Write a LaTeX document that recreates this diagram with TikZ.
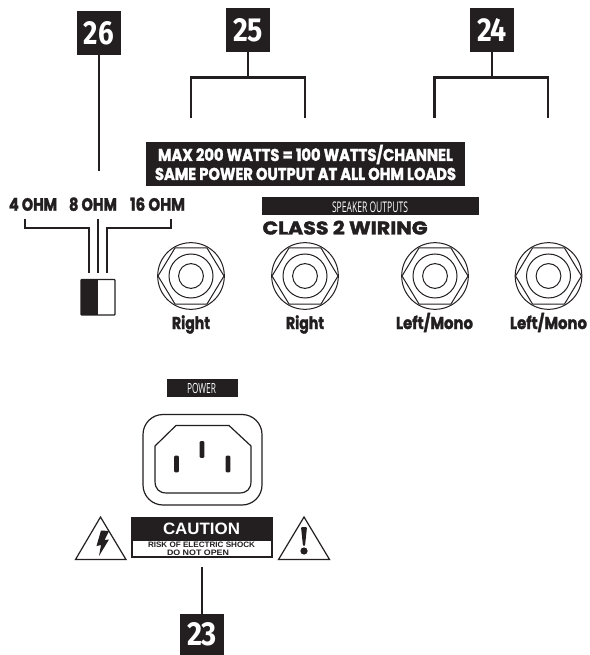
\documentclass[tikz,border=0pt]{standalone}
\usepackage{fontspec}
\usepackage{graphicx}
\setmainfont{Liberation Sans}
\newfontfamily\heavyf[BoldFont=Poppins Bold,BoldFeatures={FakeBold=1.9}]{Poppins}
\newfontfamily\numf{Fira Sans}
\newfontfamily\condf{Open Sans}
\definecolor{ink}{HTML}{231F20}
% #1 width, #2 cap height, both in reference pixels; text is framed to its cap height
\newcommand{\pxb}[3]{\resizebox{#1\dimexpr0.75pt\relax}{#2\dimexpr0.75pt\relax}{#3}}
\newcommand{\capfr}[1]{\setbox0\hbox{H}\raisebox{0pt}[\ht0][0pt]{#1}}
\newcommand{\hv}[1]{{\heavyf\bfseries\capfr{#1}}}
\newcommand{\numtext}[1]{\pxb{30}{23}{\numf\bfseries #1}}
\tikzset{
  x=0.75pt,y=-0.75pt,
  lead/.style={draw=ink,line width=1.6pt,line cap=butt},
  numbox/.style={fill=ink,text=white,minimum width=33pt,minimum height=33pt,inner sep=0pt},
  heavylabel/.style={text=ink,inner sep=0pt,anchor=center},
  thin jack/.style={draw=ink,line width=0.75pt},
  barlabel/.style={fill=ink,text=white,inner sep=0pt,anchor=center},
}
\newcommand{\jack}[2]{%
  \coordinate (#1) at (#2);
  \draw[thin jack] (#1) circle[radius=25pt];
  \draw[thin jack] (#1) circle[radius=16.5pt];
  \draw[thin jack] (#1) circle[radius=9.3pt];
  \draw[thin jack,line join=round] ($(#1)+(-33,0)$) -- ($(#1)+(-16,-28)$) -- ($(#1)+(16,-28)$) -- ($(#1)+(33,0)$) -- ($(#1)+(16,28)$) -- ($(#1)+(-16,28)$) -- cycle;
}
\usetikzlibrary{calc}
\begin{document}
\begin{tikzpicture}
\useasboundingbox (0,0) rectangle (589,655);
\fill[white] (0,0) rectangle (589,655);

% number boxes
\node[numbox] (n26) at (99,33) {\numtext{26}};
\node[numbox] (n25) at (248,30) {\numtext{25}};
\node[numbox] (n24) at (492,30) {\numtext{24}};
\node[numbox,minimum height=30.75pt] (n23) at (202,634.5) {\raisebox{-1.1pt}{\numtext{23}}};

% leaders top
\coordinate (e26) at (99,171);
\draw[lead] (n26.south) -- (e26);
\coordinate (b25) at (248,77.5);
\coordinate (b25l) at (191,118);
\coordinate (b25r) at (305,118);
\draw[lead] (n25.south) -- (b25);
\draw[lead] (b25l) |- (b25r |- b25) -- (b25r);
\coordinate (b24) at (492,77.5);
\coordinate (b24l) at (434.5,118);
\coordinate (b24r) at (548,118);
\draw[lead] (n24.south) -- (b24);
\draw[lead] (b24l) |- (b24r |- b24) -- (b24r);

% banner
\node[fill=ink,minimum width=239.25pt,minimum height=33pt,inner sep=0pt] (banner) at (305.5,164) {};
\node[text=white,inner sep=0pt] (ban1) at (305.5,155) {\pxb{295}{12}{\hv{MAX 200 WATTS = 100 WATTS/CHANNEL}}};
\node[text=white,inner sep=0pt] (ban2) at (305.5,174) {\pxb{301}{12}{\hv{SAME POWER OUTPUT AT ALL OHM LOADS}}};

% speaker outputs
\node[fill=ink,minimum width=162.75pt,minimum height=13.5pt,inner sep=0pt] (spk) at (370.5,206) {};
\node[text=white,inner sep=0pt] (spkt) at (370,207) {\pxb{76}{10.5}{\condf\capfr{SPEAKER OUTPUTS}}};
\node[heavylabel] (cls) at (345,228) {\pxb{165}{13}{\hv{CLASS 2 WIRING}}};

% ohm labels
\node[heavylabel] (o4) at (33,204.5) {\pxb{48}{12.5}{\hv{4 OHM}}};
\node[heavylabel] (o8) at (93,204.5) {\pxb{48}{12.5}{\hv{8 OHM}}};
\node[heavylabel] (o16) at (157.5,204.5) {\pxb{55}{12.5}{\hv{16 OHM}}};

% switch and leads
\coordinate (sa) at (25,219);
\coordinate (sb) at (89,273);
\coordinate (sc) at (98,219);
\coordinate (sd) at (98,273);
\coordinate (se) at (171,219);
\coordinate (sf) at (107,273);
\draw[lead,line width=2pt] (sa) -- (25,228) -| (sb);
\draw[lead,line width=2pt] (sc) -- (sd);
\draw[lead,line width=2pt] (se) -- (171,228) -| (sf);
\draw[draw=ink,line width=0.9pt,fill=white,rounded corners=0.5pt] (81,279.5) rectangle (115,315);
\fill[ink] (81,279.5) rectangle (98,315);

% jacks
\jack{j1}{191,276}
\jack{j2}{305,276}
\jack{j3}{435,276}
\jack{j4}{548.5,276}
\node[heavylabel] (l1) at (191,323) {\pxb{38}{12}{\hv{Right}}};
\node[heavylabel] (l2) at (305,323) {\pxb{38}{12}{\hv{Right}}};
\node[heavylabel] (l3) at (434.5,323) {\pxb{77}{12}{\hv{Left/Mono}}};
\node[heavylabel] (l4) at (548.5,323) {\pxb{77}{12}{\hv{Left/Mono}}};

% power
\node[barlabel,minimum width=53.25pt,minimum height=13.5pt] (pw) at (202.5,388) {};
\node[text=white,inner sep=0pt] (pwt) at (201.5,388) {\pxb{29}{10}{\condf\capfr{POWER}}};
\draw[draw=ink,line width=0.9pt,rounded corners=15pt] (143,414.5) rectangle (262,505);
\draw[draw=ink,line width=0.9pt,line join=round]
  (176,425.5) -- (229,425.5) -- (251,446) -- (251,481)
  .. controls (251,489) and (247,493) .. (239,493) -- (167,493)
  .. controls (159,493) and (155,489) .. (155,481) -- (155,446) -- cycle;
\foreach \px/\py in {176.5/464, 202/449.5, 228/464}
  \fill[ink,rounded corners=0.8pt] (\px-2.4,\py-8.3) rectangle (\px+2.4,\py+8.3);

% caution
\fill[ink] (131,517) rectangle (273,558);
\fill[white] (133,541) rectangle (271,556);
\node[text=white,inner sep=0pt] (ct) at (201.5,528.5) {\pxb{77}{11.5}{\bfseries CAUTION}};
\node[text=ink,inner sep=0pt] (c1) at (201.5,545) {\pxb{107}{5.5}{\bfseries RISK OF ELECTRIC SHOCK}};
\node[text=ink,inner sep=0pt] (c2) at (198,552.5) {\pxb{62}{5.5}{\bfseries DO NOT OPEN}};

% triangles
\draw[draw=ink,line width=0.9pt,line join=miter] (100.5,517) -- (126,559.5) -- (75.5,559.5) -- cycle;
\draw[draw=ink,line width=0.9pt,line join=miter] (304,517) -- (329.5,559.5) -- (278.5,559.5) -- cycle;
\fill[ink] (101,530.5) -- (109,531) -- (104.5,540) -- (109,539.5) -- (99,556) -- (101,545) -- (96.5,546) -- cycle;
\fill[ink,rounded corners=0.8pt] (301,527) -- (307,527) -- (305,546) -- (303,546) -- cycle;
\fill[ink] (304,551) circle[radius=2.7pt];

% bottom leader
\coordinate (t23) at (202,567);
\draw[lead] (t23) -- (n23.north);
\end{tikzpicture}
\end{document}
